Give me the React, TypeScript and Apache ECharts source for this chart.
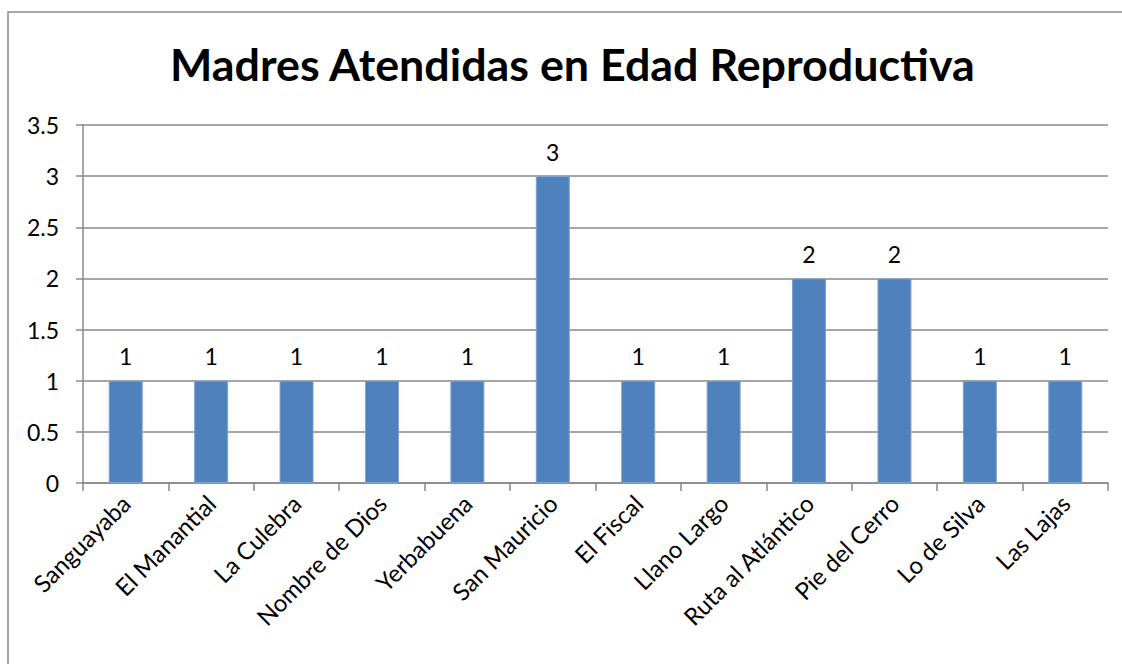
import React, { useEffect, useRef } from "react";
import * as echarts from "echarts";

const categories = [
  "Sanguayaba",
  "El Manantial",
  "La Culebra",
  "Nombre de Dios",
  "Yerbabuena",
  "San Mauricio",
  "El Fiscal",
  "Llano Largo",
  "Ruta al Atlántico",
  "Pie del Cerro",
  "Lo de Silva",
  "Las Lajas",
];
const values = [1, 1, 1, 1, 1, 3, 1, 1, 2, 2, 1, 1];
const titleText = "Madres Atendidas en Edad Reproductiva";

const FONT = "Lato, 'Open Sans', sans-serif";

export default function App() {
  const ref = useRef<HTMLDivElement>(null);
  useEffect(() => {
    if (!ref.current) return;
    const chart = echarts.init(ref.current, undefined, { renderer: "svg" });
    chart.setOption({
      animation: false,
      backgroundColor: "#ffffff",
      title: {
        text: titleText,
        left: 165,
        top: 36,
        textStyle: { fontFamily: FONT, fontWeight: "bold", fontSize: 44.8, color: "#000" },
      },
      graphic: [
        {
          type: "rect",
          shape: { x: 8, y: 12, width: 1300, height: 800 },
          style: { fill: "none", stroke: "#898989", lineWidth: 1.5 },
          silent: true,
        },
      ],
      grid: { left: 83, right: 14, top: 125, bottom: 181, containLabel: false },
      xAxis: {
        type: "category",
        data: categories,
        axisLine: { show: true, lineStyle: { color: "#898989", width: 1.5 } },
        axisTick: { show: true, length: 8, alignWithLabel: false, lineStyle: { color: "#898989", width: 1.5 } },
        axisLabel: {
          rotate: 45,
          interval: 0,
          fontFamily: FONT,
          fontSize: 24,
          color: "#000",
          margin: 16,
        },
      },
      yAxis: {
        type: "value",
        min: 0,
        max: 3.5,
        interval: 0.5,
        axisLine: { show: true, lineStyle: { color: "#898989", width: 1.5 } },
        axisTick: { show: true, length: 7, lineStyle: { color: "#898989", width: 1.5 } },
        splitLine: { show: true, lineStyle: { color: "#898989", width: 1.5 } },
        axisLabel: { fontFamily: FONT, fontSize: 23, color: "#000", margin: 24 },
      },
      series: [
        {
          type: "bar",
          data: values,
          barWidth: 34,
          itemStyle: { color: "#4F81BD", borderColor: "#7FA2CF", borderWidth: 1 },
          label: {
            show: true,
            position: "top",
            distance: 13,
            fontFamily: FONT,
            fontSize: 23,
            color: "#000",
          },
        },
      ],
    });
    return () => chart.dispose();
  }, []);
  return (
    <div
      ref={ref}
      style={{ position: "fixed", left: 0, top: 0, width: 1122, height: 664 }}
    />
  );
}
